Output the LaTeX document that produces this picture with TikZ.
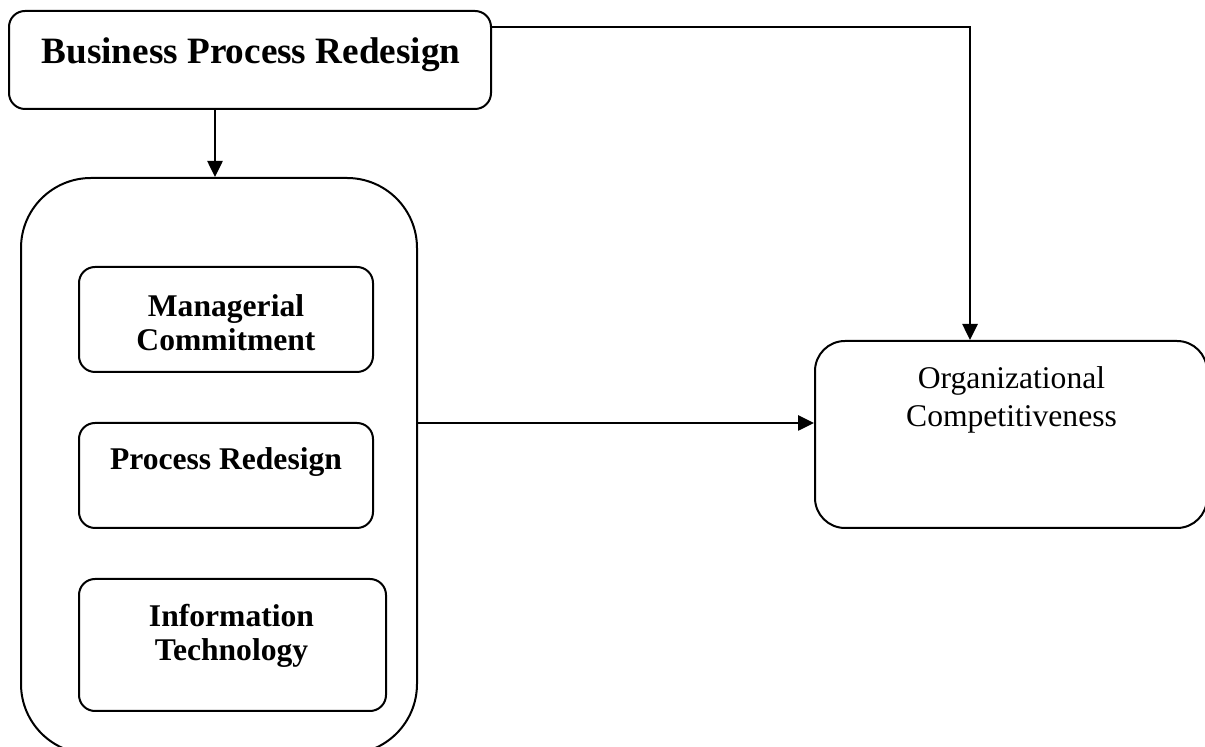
\documentclass[tikz,border=0pt]{standalone}
\usepackage{fontspec}
\setmainfont{Liberation Serif}
\usetikzlibrary{arrows.meta}
\begin{document}
\begin{tikzpicture}[x=0.5pt,y=-0.5pt,
  rbox/.style={draw=black, line width=1pt, rounded corners=8pt, inner sep=0pt},
  conn/.style={draw=black, line width=1.3pt},
  arr/.style={conn, -{Triangle[length=8pt,width=7.5pt]}},
  boldtxt/.style={inner sep=0pt, anchor=north, align=center,
    font=\fontsize{15.8pt}{17pt}\selectfont\bfseries},
  regtxt/.style={inner sep=0pt, anchor=north, align=center,
    font=\fontsize{15.8pt}{19pt}\selectfont}]
\useasboundingbox (0,0) rectangle (1205,747);
% boxes
\node[rbox, minimum width=241pt, minimum height=49pt] (bpr) at (250,60) {};
\node[rbox, rounded corners=35pt, minimum width=198pt, minimum height=288pt] (group) at (219,466) {};
\node[rbox, minimum width=147pt, minimum height=52.5pt] (mc) at (226,319.5) {};
\node[rbox, minimum width=147pt, minimum height=52.5pt] (pr) at (226,475.5) {};
\node[rbox, minimum width=153.5pt, minimum height=66pt] (it) at (232.5,645) {};
\node[rbox, rounded corners=15pt, minimum width=196pt, minimum height=93.5pt] (oc) at (1011,434.5) {};
% texts
\node[inner sep=0pt, anchor=north, font=\fontsize{18.6pt}{22pt}\selectfont\bfseries] (bprt) at (251,37) {Business Process Redesign};
\node[boldtxt] (mct) at (226,294) {Managerial\\Commitment};
\node[boldtxt] (prt) at (226,447) {Process Redesign};
\node[boldtxt] (itt) at (231.5,604) {Information\\Technology};
\node[regtxt] (oct) at (1011.5,366) {Organizational\\Competitiveness};
% connectors
\coordinate (tr) at (970,27);
\draw[arr] (bpr.south -| 215,0) -- (group.north -| 215,0);
\draw[arr] (group.east |- 0,423) -- (oc.west |- 0,423);
\draw[arr] (bpr.east |- tr) -- (tr) -- (oc.north -| tr);
\end{tikzpicture}
\end{document}
